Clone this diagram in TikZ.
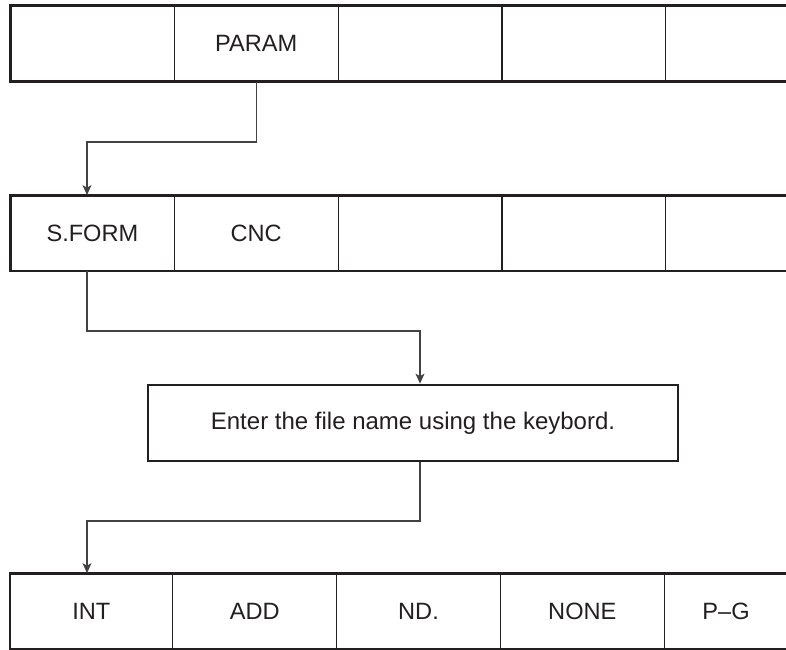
\documentclass[tikz,border=0pt]{standalone}
\usepackage{fontspec}
\setmainfont{Liberation Sans}
\usetikzlibrary{positioning,arrows.meta,calc}
\definecolor{inkgray}{HTML}{231F20}
\tikzset{
  softkey/.style={minimum width=81.5pt, minimum height=37.5pt, inner sep=0pt,
    text=inkgray, font=\fontsize{11.8}{14}\selectfont},
  lastkey/.style={softkey, minimum width=61.5pt},
  keyframe/.style={draw=inkgray, line width=1.4pt},
  keysep/.style={draw=inkgray, line width=0.6pt},
  msgbox/.style={draw=inkgray, line width=1.4pt, minimum width=265pt,
    minimum height=38pt, inner sep=0pt, text=inkgray,
    font=\fontsize{12}{14}\selectfont},
  flow/.style={-{Stealth[length=5pt, width=4.5pt, inset=1.3pt]},
    line width=0.6pt, draw=inkgray!85},
}

\begin{document}
\begin{tikzpicture}[x=0.5pt, y=-0.5pt]
    \useasboundingbox (0,0) rectangle (786,649);
    % first soft key row
    \node[softkey, anchor=west] (p1) at (10.5,43.75) {};
    \node[softkey, right=0pt of p1] (p2) {PARAM};
    \node[softkey, right=0pt of p2] (p3) {};
    \node[softkey, right=0pt of p3] (p4) {};
    \node[lastkey, right=0pt of p4] (p5) {};
    % second soft key row
    \node[softkey, anchor=west] (s1) at (10.5,233) {S.FORM};
    \node[softkey, right=0pt of s1] (s2) {CNC};
    \node[softkey, right=0pt of s2] (s3) {};
    \node[softkey, right=0pt of s3] (s4) {};
    \node[lastkey, right=0pt of s4] (s5) {};
    % message
    \node[msgbox] (e) at (413,423) {Enter the file name using the keybord.};
    % last soft key row
    \node[softkey, anchor=west, minimum width=81pt] (k1) at (10,611) {INT};
    \node[softkey, right=0pt of k1] (k2) {ADD};
    \node[softkey, right=0pt of k2] (k3) {ND.};
    \node[softkey, right=0pt of k3] (k4) {NONE};
    \node[lastkey, right=0pt of k4] (k5) {P--G};

    \foreach \r in {p,s,k} {
      \draw[keyframe] (\r5.north east) -- (\r1.north west)
        -- (\r1.south west) -- (\r5.south east);
      \foreach \c in {1,...,4}
        \draw[keysep] (\r\c.north east) -- (\r\c.south east);
    }

    % bends
    \coordinate (b1) at (87,142);
    \coordinate (b2) at (87,331);
    \coordinate (b3) at (420,331);
    \coordinate (b4) at (420,521);
    \coordinate (b5) at (87,521);

    \draw[flow] (p2.south) |- (b1) -- (b1 |- s1.north);
    \draw[flow] (b2 |- s1.south) -- (b2) -- (b3) -- (b3 |- e.north);
    \draw[flow] (b4 |- e.south) -- (b4) -- (b5) -- (b5 |- k1.north);
\end{tikzpicture}
\end{document}
